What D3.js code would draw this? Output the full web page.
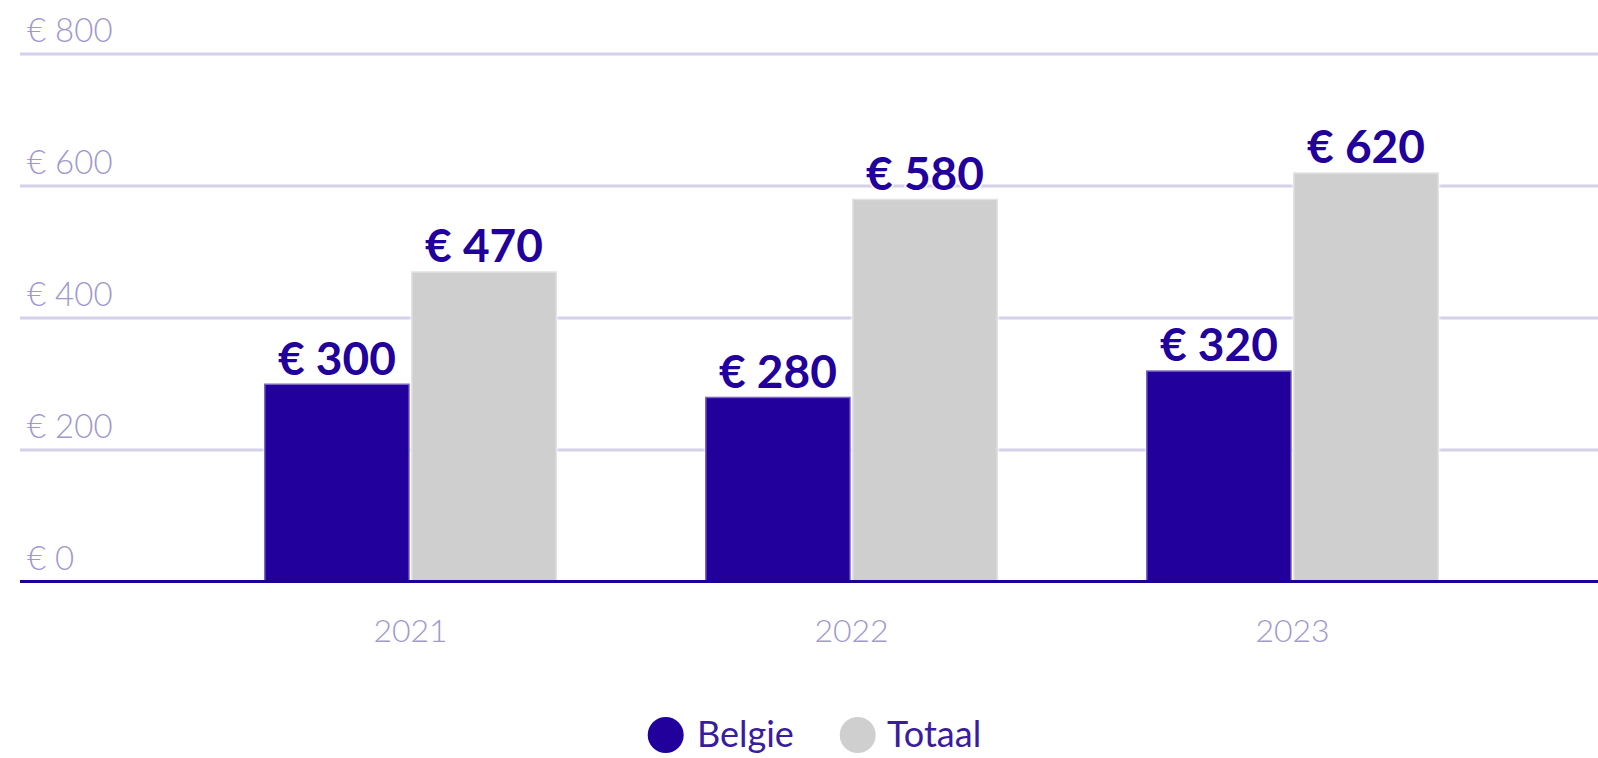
<!DOCTYPE html>
<html>
<head>
<meta charset="utf-8">
<script src="https://cdn.jsdelivr.net/npm/d3@7"></script>
<style>
  html, body { margin: 0; padding: 0; background: #fff; }
  svg { display: block; font-family: Lato, "Open Sans", sans-serif; }
</style>
</head>
<body>
<svg id="chart" width="1598" height="758"></svg>
<script>
const years = ['2021', '2022', '2023'];
const seriesNames = ['Belgie', 'Totaal'];
const belgie = [300, 280, 320];
const totaal = [470, 580, 620];
const yTicks = [0, 200, 400, 600, 800];
const seriesColors = ['#22009c', '#cfcfcf'];

const W = 1598, H = 758;
const plotLeft = 20, plotRight = 1598;
const svg = d3.select('#chart');

const y = d3.scaleLinear().domain([0, 800]).range([581.5, 53.5]);
const x0 = d3.scaleBand().domain(years).range([190, 1513]).paddingInner(0.3356).paddingOuter(0.1678);
const x1 = d3.scaleBand().domain(seriesNames).range([0, x0.bandwidth()]).paddingInner(0.008);
const color = d3.scaleOrdinal().domain(seriesNames).range(seriesColors);

// Grid + y labels
const yAxis = d3.axisRight(y).tickValues(yTicks).tickSize(plotRight - plotLeft).tickFormat(d => '€ ' + d);
const gy = svg.append('g').attr('transform', `translate(${plotLeft},0)`).call(yAxis);
gy.select('.domain').remove();
gy.selectAll('.tick line').attr('stroke', '#d6d0ec').attr('stroke-width', 3)
  .filter(d => d === 0).remove();
gy.selectAll('.tick text')
  .attr('x', 7).attr('y', -12).attr('dy', 0)
  .attr('text-anchor', 'start')
  .attr('fill', '#a198cc')
  .style('font-size', '33px').style('font-weight', 300)
  .style('font-family', 'Lato, "Open Sans", sans-serif');

// Data
const rows = years.map((yr, i) => ({ year: yr, values: [
  { name: 'Belgie', value: belgie[i] },
  { name: 'Totaal', value: totaal[i] }
]}));

const groups = svg.append('g').selectAll('g').data(rows).join('g')
  .attr('transform', d => `translate(${x0(d.year)},0)`);

groups.selectAll('rect').data(d => d.values).join('rect')
  .attr('x', d => x1(d.name))
  .attr('width', x1.bandwidth())
  .attr('y', d => y(d.value))
  .attr('height', d => y(0) - y(d.value))
  .attr('fill', d => color(d.name))
  .attr('stroke', '#ffffff')
  .attr('stroke-opacity', 0.4)
  .attr('stroke-width', 3);

// Baseline
svg.append('line')
  .attr('x1', plotLeft).attr('x2', plotRight)
  .attr('y1', y(0)).attr('y2', y(0))
  .attr('stroke', '#1f0096').attr('stroke-width', 3);

// Data labels
groups.selectAll('text.lbl').data(d => d.values).join('text')
  .attr('class', 'lbl')
  .attr('x', d => x1(d.name) + x1.bandwidth() / 2)
  .attr('y', d => y(d.value) - 9)
  .attr('text-anchor', 'middle')
  .attr('fill', '#22009c')
  .attr('stroke', '#ffffff').attr('stroke-width', 3).attr('paint-order', 'stroke')
  .style('font-size', '46px').style('font-weight', 700)
  .text(d => '€ ' + d.value);

// X axis labels
const xAxis = d3.axisBottom(x0).tickSize(0);
const gx = svg.append('g').attr('transform', `translate(0,${y(0)})`).call(xAxis);
gx.select('.domain').remove();
gx.selectAll('.tick text')
  .attr('y', 60).attr('dy', 0)
  .attr('fill', '#a198cc')
  .style('font-size', '32px').style('font-weight', 300)
  .style('font-family', 'Lato, "Open Sans", sans-serif');

// Legend
const legendItems = [
  { name: 'Belgie', cx: 665.7, tx: 697 },
  { name: 'Totaal', cx: 857.7, tx: 887 }
];
const lg = svg.append('g');
lg.selectAll('circle').data(legendItems).join('circle')
  .attr('cx', d => d.cx).attr('cy', 735).attr('r', 18)
  .attr('fill', d => color(d.name));
lg.selectAll('text').data(legendItems).join('text')
  .attr('x', d => d.tx).attr('y', 747)
  .attr('fill', '#3a1c9e')
  .style('font-size', '36px').style('font-weight', 400)
  .text(d => d.name);
</script>
</body>
</html>
